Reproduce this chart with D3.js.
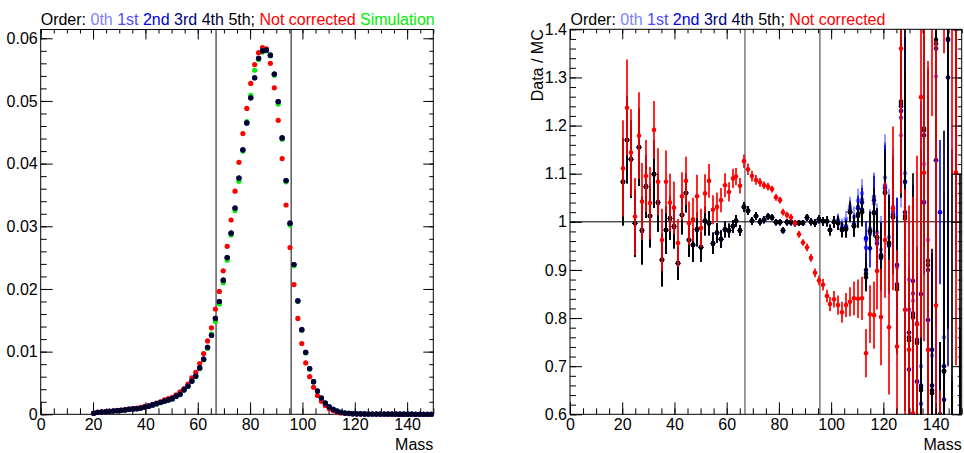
<!DOCTYPE html>
<html>
<head>
<meta charset="utf-8">
<script src="https://cdn.jsdelivr.net/npm/d3@7"></script>
<style>
  body { margin: 0; background: #fff; }
  svg { display: block; font-family: "Liberation Sans", Arial, sans-serif; }
</style>
</head>
<body>
<div id="chart"></div>
<script>
// ---- data ----
// histogram binning: 87 bins of width 1.5 starting at 19.5
const binLow = 19.5, binWidth = 1.5, binCount = 87;
const massBins = d3.range(binCount).map(i => binLow + binWidth * (i + 0.5));

// mass window lines
const windowLines = [67, 95.7];

const orderNames = ["0th", "1st", "2nd", "3rd", "4th", "5th"];
const orderColors = ["#7f7fff", "#4c4cff", "#0000e6", "#000080", "#000033", "#000000"];

// left: normalised mass distributions
const fracSimulation = [0.00015, 0.00029, 0.00035, 0.0004, 0.00046, 0.00052, 0.00057, 0.00063, 0.00069, 0.00079,
  0.00084, 0.00089, 0.00099, 0.00113, 0.00128, 0.00146, 0.00166, 0.00186, 0.00206, 0.00226,
  0.00246, 0.00285, 0.00315, 0.00385, 0.00445, 0.00522, 0.006, 0.0073, 0.0087, 0.0105,
  0.0128, 0.0148, 0.0176, 0.021, 0.0246, 0.0286, 0.0325, 0.0372, 0.042, 0.0467,
  0.0509, 0.0549, 0.0566, 0.0578, 0.058, 0.0572, 0.0541, 0.0495, 0.0439, 0.0371,
  0.0302, 0.0237, 0.018, 0.0134, 0.0098, 0.0072, 0.0052, 0.0037, 0.0026, 0.0018,
  0.0012, 0.0008, 0.0005, 0.0003, 0.0002, 0.00015, 0.0001, 0.00008, 0.00007, 0.00006,
  0.00005, 0.00005, 0.00004, 0.00004, 0.00003, 0.00003, 0.00003, 0.00002, 0.00002, 0.00002,
  0.00002, 0.00002, 0.00001, 0.00001, 0.00001, 0.00001, 0.00001];

const fracNotCorrected = [0.00018, 0.00032, 0.00038, 0.00043, 0.0005, 0.00056, 0.00062, 0.00068, 0.00075, 0.00085,
  0.0009, 0.00097, 0.0011, 0.00125, 0.0014, 0.0016, 0.0018, 0.002, 0.0023, 0.0025,
  0.0027, 0.0031, 0.0036, 0.0041, 0.0048, 0.0058, 0.0067, 0.0081, 0.0097, 0.0117,
  0.0138, 0.0168, 0.0196, 0.0229, 0.0268, 0.031, 0.0356, 0.0402, 0.0448, 0.0488,
  0.0528, 0.0558, 0.0577, 0.0585, 0.0583, 0.056, 0.0521, 0.0469, 0.0408, 0.0334,
  0.0266, 0.0207, 0.0153, 0.0113, 0.0082, 0.006, 0.0043, 0.003, 0.0021, 0.0014,
  0.0009, 0.0006, 0.0003, 0.0002, 0.00015, 0.0001, 0.00008, 0.00006, 0.00005, 0.00004,
  0.00004, 0.00003, 0.00003, 0.00003, 0.00002, 0.00002, 0.00002, 0.00002, 0.00001, 0.00001,
  0.00001, 0.00001, 0.00001, 0.00001, 0.00001, 0.00001, 0.00001];

// corrected data (all orders sit on top of each other here)
const fracCorrected = [0.00016, 0.0003, 0.00036, 0.0004, 0.00047, 0.00053, 0.00058, 0.00064, 0.0007, 0.0008,
  0.00085, 0.0009, 0.001, 0.00115, 0.0013, 0.0015, 0.0017, 0.0019, 0.0021, 0.0023,
  0.0025, 0.0029, 0.0032, 0.0039, 0.0045, 0.0053, 0.0061, 0.0074, 0.0088, 0.0107,
  0.0126, 0.0153, 0.018, 0.0214, 0.025, 0.0289, 0.0329, 0.0377, 0.0422, 0.0465,
  0.0505, 0.0537, 0.0568, 0.058, 0.0581, 0.0573, 0.0543, 0.0499, 0.0441, 0.0373,
  0.0305, 0.0239, 0.0181, 0.0135, 0.0099, 0.0073, 0.0052, 0.0037, 0.0026, 0.0018,
  0.0012, 0.0008, 0.0005, 0.0003, 0.0002, 0.00015, 0.0001, 0.00008, 0.00007, 0.00006,
  0.00005, 0.00005, 0.00004, 0.00004, 0.00003, 0.00003, 0.00003, 0.00002, 0.00002, 0.00002,
  0.00002, 0.00002, 0.00001, 0.00001, 0.00001, 0.00001, 0.00001];

// right: data / MC ratios
const ratioNotCorrected = [1.111, 1.237, 1.144, 1.011, 1.179, 1.042, 1.095, 1.039, 1.191, 1.083,
  0.962, 1.083, 1.040, 1.029, 0.956, 1.053, 1.085, 0.997, 1.005, 1.053,
  0.987, 1.059, 1.085, 1.025, 1.031, 1.045, 1.076, 1.062, 1.090, 1.094,
  1.075, 1.126, 1.109, 1.095, 1.087, 1.082, 1.076, 1.073, 1.068, 1.051,
  1.045, 1.020, 1.014, 1.009, 0.997, 0.974, 0.957, 0.947, 0.925, 0.894,
  0.878, 0.869, 0.846, 0.829, 0.839, 0.827, 0.812, 0.827, 0.834, 0.841,
  0.840, 0.841, 0.727, 0.808, 0.806, 0.898, 0.802, 0.962, 0.781, 1.028,
  0.741, 1.360, 0.817, 0.734, 0.602, 0.787, 1.259, 1.102, 0.734, 1.520,
  0.826, 0.450, 1.600, 0.400, 1.700, 1.102, 0.300];

const errNotCorrected = [0.100, 0.100, 0.090, 0.080, 0.090, 0.080, 0.075, 0.075, 0.060, 0.070,
  0.065, 0.065, 0.060, 0.055, 0.050, 0.050, 0.050, 0.045, 0.045, 0.045,
  0.040, 0.040, 0.035, 0.030, 0.030, 0.025, 0.025, 0.020, 0.020, 0.018,
  0.016, 0.014, 0.012, 0.011, 0.010, 0.009, 0.008, 0.008, 0.007, 0.007,
  0.007, 0.007, 0.007, 0.007, 0.007, 0.007, 0.007, 0.008, 0.008, 0.009,
  0.010, 0.012, 0.013, 0.015, 0.017, 0.020, 0.022, 0.025, 0.030, 0.035,
  0.040, 0.045, 0.050, 0.060, 0.070, 0.080, 0.100, 0.120, 0.140, 0.170,
  0.200, 0.300, 0.250, 0.300, 0.450, 0.350, 0.500, 0.350, 0.600, 0.300,
  0.550, 0.200, 0.250, 0.150, 0.600, 0.400, 0.200];

const ratio5th = [1.083, 1.170, 1.130, 0.997, 1.155, 0.982, 1.073, 1.012, 1.099, 1.040,
  0.921, 0.983, 1.007, 0.990, 0.914, 1.014, 1.060, 0.962, 0.952, 0.984,
  0.947, 1.002, 0.997, 0.955, 0.977, 0.964, 0.984, 0.982, 0.991, 1.002,
  0.982, 1.031, 1.023, 1.002, 1.012, 1.000, 1.004, 1.011, 1.009, 0.999,
  0.999, 0.982, 0.999, 0.999, 0.997, 0.998, 0.998, 1.009, 1.000, 0.998,
  1.005, 1.001, 1.001, 0.983, 1.000, 0.997, 0.983, 0.984, 1.020, 0.991,
  1.012, 1.020, 0.885, 0.980, 1.018, 0.967, 0.927, 1.060, 0.955, 1.009,
  0.860, 1.250, 1.007, 0.754, 0.801, 0.748, 0.650, 1.194, 0.919, 0.644,
  1.378, 0.550, 0.689, 1.500, 0.450, 1.600, 0.500];

const err5th = [0.090, 0.090, 0.080, 0.070, 0.080, 0.070, 0.065, 0.065, 0.070, 0.060,
  0.055, 0.050, 0.045, 0.045, 0.035, 0.040, 0.040, 0.035, 0.035, 0.035,
  0.030, 0.030, 0.025, 0.022, 0.020, 0.018, 0.016, 0.014, 0.013, 0.012,
  0.011, 0.010, 0.009, 0.008, 0.008, 0.007, 0.007, 0.006, 0.006, 0.006,
  0.006, 0.006, 0.006, 0.006, 0.006, 0.006, 0.006, 0.007, 0.007, 0.008,
  0.008, 0.009, 0.010, 0.011, 0.012, 0.013, 0.015, 0.017, 0.020, 0.022,
  0.025, 0.030, 0.030, 0.035, 0.040, 0.050, 0.060, 0.080, 0.090, 0.100,
  0.120, 0.200, 0.400, 0.150, 0.300, 0.200, 0.500, 0.250, 0.400, 0.300,
  0.600, 0.200, 0.500, 0.300, 0.700, 0.400, 0.600];

// lower orders agree with the 5th below bin 55; above it they scatter
const hiStart = 55;
const hiRatio0th = [1.004, 0.992, 1.006, 1.032, 1.010, 1.044, 1.059, 0.962, 0.986, 1.038, 0.978, 0.942, 1.092, 0.968, 1.031, 0.905,
  1.180, 1.101, 0.880, 0.836, 0.790, 0.700, 1.120, 0.962, 0.722, 1.302, 0.560, 0.760, 1.380, 0.480, 1.550, 0.520];
const hiRatio1st = [1.001, 0.987, 0.991, 1.026, 0.996, 1.031, 1.046, 0.946, 0.975, 1.052, 0.961, 0.931, 1.076, 0.950, 1.021, 0.910,
  1.216, 1.083, 0.817, 0.851, 0.668, 0.622, 1.041, 0.796, 0.734, 1.128, 0.500, 0.690, 1.378, 0.450, 1.600, 0.400];
const hiRatio2nd = [0.999, 0.985, 0.988, 1.022, 0.993, 1.028, 1.040, 0.966, 0.945, 1.045, 0.955, 0.925, 1.070, 0.952, 1.015, 0.910,
  1.230, 1.083, 0.693, 0.877, 0.668, 0.850, 1.040, 0.796, 0.734, 1.128, 1.020, 0.630, 1.378, 0.420, 1.400, 0.380];
const hiRatio3rd = [0.998, 0.984, 0.986, 1.021, 0.992, 1.016, 1.025, 0.900, 0.982, 1.020, 0.968, 0.930, 1.062, 0.956, 1.012, 0.870,
  1.240, 1.020, 0.770, 0.810, 0.755, 0.660, 1.180, 0.900, 0.660, 1.360, 0.580, 0.700, 1.300, 0.470, 1.500, 0.460];
const hiRatio4th = [0.997, 0.983, 0.985, 1.020, 0.991, 1.014, 1.022, 0.892, 0.981, 1.019, 0.968, 0.928, 1.061, 0.956, 1.010, 0.865,
  1.245, 1.012, 0.760, 0.805, 0.750, 0.655, 1.190, 0.910, 0.650, 1.370, 0.600, 0.690, 1.380, 0.460, 1.550, 0.480];
const hiErrOrders = [0.014, 0.015, 0.017, 0.020, 0.022, 0.025, 0.030, 0.035, 0.040, 0.050, 0.060, 0.070, 0.090, 0.100, 0.120, 0.140,
  0.150, 0.300, 0.120, 0.200, 0.150, 0.400, 0.150, 0.350, 0.200, 0.500, 0.150, 0.300, 0.600, 0.200, 0.500, 0.300];

// ---- drawing ----
const W = 964, H = 453;
const svg = d3.select("#chart").append("svg")
  .attr("width", W)
  .attr("height", H);

const fontSize = 16;

// ROOT style frame: ticks inside on all four sides
function drawFrame(g, x, y, xMajor, xMinor, yMajor, yMinor, yFmt) {
  const [xl, xr] = x.range();
  const [yb, yt] = y.range();
  const axes = g.append("g");

  axes.append("g").attr("transform", `translate(0,${yb})`)
    .call(d3.axisBottom(x).tickValues(xMinor).tickSize(-6).tickSizeOuter(0).tickFormat(""));
  axes.append("g").attr("transform", `translate(0,${yb})`)
    .call(d3.axisBottom(x).tickValues(xMajor).tickSize(-12).tickSizeOuter(0).tickPadding(4).tickFormat(d3.format("d")));
  axes.append("g").attr("transform", `translate(0,${yt})`)
    .call(d3.axisTop(x).tickValues(xMinor).tickSize(-4).tickSizeOuter(0).tickFormat(""));
  axes.append("g").attr("transform", `translate(0,${yt})`)
    .call(d3.axisTop(x).tickValues(xMajor).tickSize(-10).tickSizeOuter(0).tickFormat(""));

  axes.append("g").attr("transform", `translate(${xl},0)`)
    .call(d3.axisLeft(y).tickValues(yMinor).tickSize(-6).tickSizeOuter(0).tickFormat(""));
  axes.append("g").attr("transform", `translate(${xl},0)`)
    .call(d3.axisLeft(y).tickValues(yMajor).tickSize(-12).tickSizeOuter(0).tickPadding(3).tickFormat(yFmt));
  axes.append("g").attr("transform", `translate(${xr},0)`)
    .call(d3.axisRight(y).tickValues(yMinor).tickSize(-4).tickSizeOuter(0).tickFormat(""));
  axes.append("g").attr("transform", `translate(${xr},0)`)
    .call(d3.axisRight(y).tickValues(yMajor).tickSize(-10).tickSizeOuter(0).tickFormat(""));

  axes.selectAll(".domain").remove();
  axes.selectAll("g").attr("font-family", null).attr("font-size", null);
  axes.selectAll(".tick line").attr("stroke", "#000");
  axes.selectAll(".tick text").attr("fill", "#000").style("font-size", fontSize + "px");

  g.append("rect")
    .attr("x", xl).attr("y", yt)
    .attr("width", xr - xl).attr("height", yb - yt)
    .attr("fill", "none").attr("stroke", "#000");
}

function drawTitle(g, x0, parts) {
  const t = g.append("text")
    .attr("x", x0).attr("y", 25)
    .style("font-size", "16px");
  parts.forEach(p => t.append("tspan").attr("fill", p[1]).text(p[0]));
}

const xTicksMajor = d3.range(0, 151, 20);
const xTicksMinor = d3.range(0, 151, 5);

// ---------------- left panel ----------------
const left = svg.append("g");
const xL = d3.scaleLinear().domain([0, 150]).range([40.7, 433.3]);
const yL = d3.scaleLinear().domain([0, 0.0614]).range([414.3, 29.5]);

drawFrame(left, xL, yL, xTicksMajor, xTicksMinor,
  d3.range(0, 0.0601, 0.01), d3.range(0, 0.0614, 0.002),
  d => String(+d.toFixed(2)));

left.selectAll(".wline").data(windowLines).join("line")
  .attr("x1", d => xL(d)).attr("x2", d => xL(d))
  .attr("y1", yL.range()[1]).attr("y2", yL.range()[0])
  .attr("stroke", "#333").attr("stroke-width", 1.2);

function leftSeries(values, color, opacity) {
  left.append("g").selectAll("circle")
    .data(values.map((v, i) => [massBins[i], v]))
    .join("circle")
    .attr("cx", d => xL(d[0]))
    .attr("cy", d => yL(d[1]))
    .attr("r", 2.6)
    .attr("fill", color)
    .attr("fill-opacity", opacity);
}
leftSeries(fracSimulation, "#00ee00", 1);
leftSeries(fracNotCorrected, "#ff0000", 1);
orderColors.forEach(c => leftSeries(fracCorrected, c, 0.55));

drawTitle(left, 40.7, [["Order: ", "#000"],
  ["0th ", orderColors[0]], ["1st ", orderColors[1]], ["2nd ", orderColors[2]],
  ["3rd ", orderColors[3]], ["4th ", orderColors[4]], ["5th; ", "#000"],
  ["Not corrected ", "#ff0000"], ["Simulation", "#00ee00"]]);

left.append("text")
  .attr("x", xL.range()[1]).attr("y", 450)
  .attr("text-anchor", "end")
  .style("font-size", fontSize + "px")
  .text("Mass");

// ---------------- right panel ----------------
const right = svg.append("g");
const xR = d3.scaleLinear().domain([0, 150]).range([570, 961.7]);
const yR = d3.scaleLinear().domain([0.6, 1.4]).range([414.3, 29.3]);

svg.append("clipPath").attr("id", "clipR")
  .append("rect")
  .attr("x", xR.range()[0]).attr("y", yR.range()[1])
  .attr("width", xR.range()[1] - xR.range()[0])
  .attr("height", yR.range()[0] - yR.range()[1]);

const plotR = right.append("g").attr("clip-path", "url(#clipR)");

plotR.selectAll(".wline").data(windowLines).join("line")
  .attr("x1", d => xR(d)).attr("x2", d => xR(d))
  .attr("y1", yR.range()[1]).attr("y2", yR.range()[0])
  .attr("stroke", "#777").attr("stroke-width", 1.5);

plotR.append("line")
  .attr("x1", xR.range()[0]).attr("x2", xR.range()[1])
  .attr("y1", yR(1)).attr("y2", yR(1))
  .attr("stroke", "#000");

function ratioSeries(values, errors, color, barOpacity) {
  const pts = values.map((v, i) => ({ m: massBins[i], v: v, e: errors[i] }));
  const g = plotR.append("g");
  // snap bars to whole pixels so neighbouring bins keep a gap
  g.selectAll("line").data(pts).join("line")
    .attr("x1", d => Math.round(xR(d.m))).attr("x2", d => Math.round(xR(d.m)))
    .attr("y1", d => yR(d.v - d.e)).attr("y2", d => yR(d.v + d.e))
    .attr("stroke", color).attr("stroke-width", 2)
    .attr("stroke-opacity", barOpacity);
  g.selectAll("circle").data(pts).join("circle")
    .attr("cx", d => Math.round(xR(d.m))).attr("cy", d => yR(d.v))
    .attr("r", 2.3)
    .attr("fill", color);
}

const hiRatios = [hiRatio0th, hiRatio1st, hiRatio2nd, hiRatio3rd, hiRatio4th];
hiRatios.forEach((hi, k) => {
  const vals = ratio5th.slice(0, hiStart).concat(hi);
  const errs = err5th.slice(0, hiStart).concat(hiErrOrders);
  ratioSeries(vals, errs, orderColors[k], 0.8);
});
ratioSeries(ratio5th, err5th, orderColors[5], 0.85);
ratioSeries(ratioNotCorrected, errNotCorrected, "#ff0000", 0.85);

drawFrame(right, xR, yR, xTicksMajor, xTicksMinor,
  d3.range(0.6, 1.401, 0.1), d3.range(0.6, 1.401, 0.02),
  d => String(+d.toFixed(1)));

drawTitle(right, 570.5, [["Order: ", "#000"],
  ["0th ", orderColors[0]], ["1st ", orderColors[1]], ["2nd ", orderColors[2]],
  ["3rd ", orderColors[3]], ["4th ", orderColors[4]], ["5th; ", "#000"],
  ["Not corrected", "#ff0000"]]);

right.append("text")
  .attr("x", xR.range()[1]).attr("y", 450)
  .attr("text-anchor", "end")
  .style("font-size", fontSize + "px")
  .text("Mass");

right.append("text")
  .attr("transform", `translate(543,${yR.range()[1]}) rotate(-90)`)
  .attr("text-anchor", "end")
  .style("font-size", fontSize + "px")
  .text("Data / MC");
</script>
</body>
</html>
